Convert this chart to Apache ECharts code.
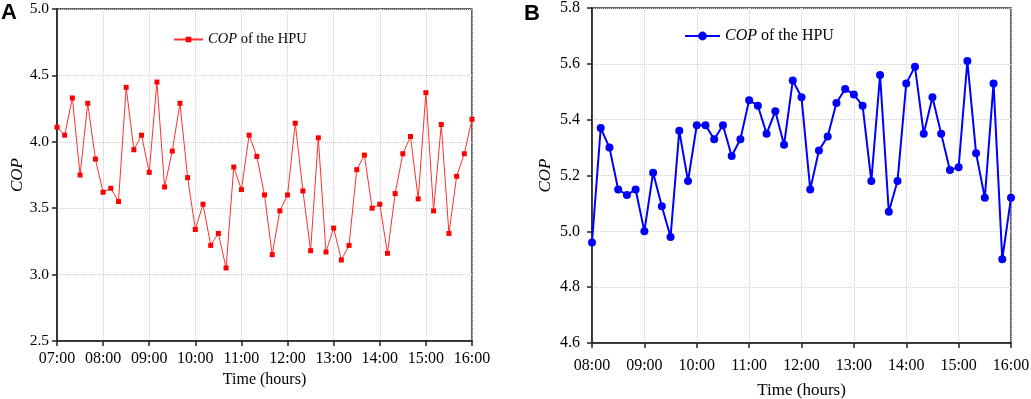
<!DOCTYPE html>
<html>
<head>
<meta charset="utf-8">
<script src="https://cdn.jsdelivr.net/npm/echarts@6/dist/echarts.min.js"></script>
<style>
  html, body { margin: 0; padding: 0; background: #fff; }
  #chart { width: 1031px; height: 399px; }
</style>
</head>
<body>
<div id="chart"></div>
<script>
// time slots every 10 minutes
function timeSlots(startHour, endHour) {
  const out = [];
  for (let h = startHour; h <= endHour; h++) {
    for (let m = 0; m < 60; m += 10) {
      if (h === endHour && m > 0) break;
      out.push(String(h).padStart(2, '0') + ':' + String(m).padStart(2, '0'));
    }
  }
  return out;
}

// panel A: 07:00 - 16:00
const timesA = timeSlots(7, 16);
const copA = [
  4.11, 4.05, 4.33, 3.75, 4.29, 3.87,
  3.62, 3.65, 3.55, 4.41, 3.94, 4.05,
  3.77, 4.45, 3.66, 3.93, 4.29, 3.73,
  3.34, 3.53, 3.22, 3.31, 3.05, 3.81,
  3.64, 4.05, 3.89, 3.60, 3.15, 3.48,
  3.60, 4.14, 3.63, 3.18, 4.03, 3.17,
  3.35, 3.11, 3.22, 3.79, 3.90, 3.50,
  3.53, 3.16, 3.61, 3.91, 4.04, 3.57,
  4.37, 3.48, 4.13, 3.31, 3.74, 3.91,
  4.17
];

// panel B: 08:00 - 16:00
const timesB = timeSlots(8, 16);
const copB = [
  4.96, 5.37, 5.30, 5.15, 5.13, 5.15,
  5.00, 5.21, 5.09, 4.98, 5.36, 5.18,
  5.38, 5.38, 5.33, 5.38, 5.27, 5.33,
  5.47, 5.45, 5.35, 5.43, 5.31, 5.54,
  5.48, 5.15, 5.29, 5.34, 5.46, 5.51,
  5.49, 5.45, 5.18, 5.56, 5.07, 5.18,
  5.53, 5.59, 5.35, 5.48, 5.35, 5.22,
  5.23, 5.61, 5.28, 5.12, 5.53, 4.90,
  5.12
];

const serif = 'Liberation Serif';
const legendName = '{i|COP} of the HPU';

const chart = echarts.init(document.getElementById('chart'), null, { renderer: 'canvas' });

const xAxisCommon = (data, fontSize, margin, nameSize, nameGap) => ({
  type: 'category',
  data: data,
  boundaryGap: false,
  name: 'Time (hours)',
  nameLocation: 'middle',
  nameGap: nameGap,
  nameTextStyle: { fontFamily: serif, fontSize: nameSize, color: '#000' },
  axisLine: { lineStyle: { color: '#222', width: 1.5 } },
  axisTick: { interval: 5, length: 5, lineStyle: { color: '#222', width: 1.5 } },
  axisLabel: { interval: 5, margin: margin, fontFamily: serif, fontSize: fontSize, color: '#000' },
  splitLine: { show: true, interval: 5, lineStyle: { color: '#d0d0d0', type: 'dotted' } },
});

const yAxisCommon = (min, max, interval, fontSize, margin, nameSize, nameGap) => ({
  type: 'value',
  min: min,
  max: max,
  interval: interval,
  name: 'COP',
  nameLocation: 'middle',
  nameGap: nameGap,
  nameRotate: 90,
  nameTextStyle: { fontFamily: serif, fontStyle: 'italic', fontSize: nameSize, color: '#000' },
  axisLine: { show: true, lineStyle: { color: '#222', width: 1.5 } },
  axisTick: { show: true, length: 5, lineStyle: { color: '#222', width: 1.5 } },
  axisLabel: {
    margin: margin, fontFamily: serif, fontSize: fontSize, color: '#000',
    formatter: (v) => v.toFixed(1),
  },
  splitLine: { show: true, lineStyle: { color: '#d0d0d0', type: 'dotted' } },
});

const option = {
  backgroundColor: '#fff',
  animation: false,
  grid: [
    { left: 57, top: 9, width: 415, height: 332, show: true, borderColor: '#333', borderWidth: 1.5, outerBoundsMode: 'none' },
    { left: 592, top: 8, width: 419, height: 335, show: true, borderColor: '#333', borderWidth: 1.5, outerBoundsMode: 'none' },
  ],
  xAxis: [
    Object.assign(xAxisCommon(timesA, 16, 10, 16, 28), { gridIndex: 0 }),
    Object.assign(xAxisCommon(timesB, 16, 15, 17, 39), { gridIndex: 1 }),
  ],
  yAxis: [
    Object.assign(yAxisCommon(2.5, 5.0, 0.5, 15.5, 8, 17, 30), { gridIndex: 0 }),
    Object.assign(yAxisCommon(4.6, 5.8, 0.2, 16, 12, 17, 38), { gridIndex: 1 }),
  ],
  legend: [
    {
      data: ['A'],
      left: 173,
      top: 32,
      padding: 0,
      itemWidth: 29,
      itemHeight: 7,
      formatter: () => legendName,
      textStyle: {
        fontFamily: serif, fontSize: 14.5, color: '#000',
        rich: { i: { fontFamily: serif, fontSize: 14.5, fontStyle: 'italic', color: '#000' } },
      },
    },
    {
      data: ['B'],
      left: 684,
      top: 28,
      padding: 0,
      itemWidth: 35,
      itemHeight: 11,
      formatter: () => legendName,
      textStyle: {
        fontFamily: serif, fontSize: 16, color: '#000',
        rich: { i: { fontFamily: serif, fontSize: 16, fontStyle: 'italic', color: '#000' } },
      },
    },
  ],
  series: [
    {
      name: 'A',
      type: 'line',
      xAxisIndex: 0,
      yAxisIndex: 0,
      data: copA,
      symbol: 'rect',
      symbolSize: 5,
      showAllSymbol: true,
      color: '#ff0000',
      lineStyle: { color: '#ff3030', width: 1 },
      itemStyle: { color: '#ff0000' },
    },
    {
      name: 'B',
      type: 'line',
      xAxisIndex: 1,
      yAxisIndex: 1,
      data: copB,
      symbol: 'circle',
      symbolSize: 8,
      showAllSymbol: true,
      color: '#0000ff',
      lineStyle: { color: '#0000ff', width: 2 },
      itemStyle: { color: '#0000ff' },
    },
  ],
  graphic: [
    { type: 'text', left: 1, top: 2, style: { text: 'A', font: 'bold 22px "Liberation Sans"', fill: '#000' } },
    { type: 'text', left: 524, top: 3, style: { text: 'B', font: 'bold 22px "Liberation Sans"', fill: '#000' } },
  ],
};

chart.setOption(option);
</script>
</body>
</html>
